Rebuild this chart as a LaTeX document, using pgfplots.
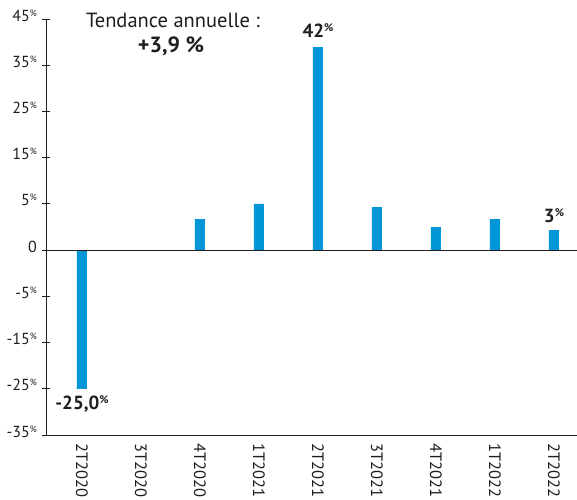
\documentclass[border=0pt]{standalone}
\usepackage{pgfplots}
\pgfplotsset{compat=1.18}
\usepackage{fontspec}
\setmainfont{PT Sans}
\definecolor{barblue}{HTML}{0096D7}
\definecolor{txt}{HTML}{1E1E1E}
% small raised percent sign
\newcommand\pct[2]{\raisebox{#2}{\fontsize{#1}{#1}\selectfont\%}}
\newcommand\tp{\pct{9}{5pt}}
\newcommand\bp{\pct{11}{6pt}}

\begin{document}
\begin{tikzpicture}[x=1pt,y=1pt]
\useasboundingbox (0,0) rectangle (577,499);
\begin{axis}[
  at={(46pt,64pt)}, anchor=south west,
  width=531pt, height=416pt, scale only axis,
  xmin=-0.61, xmax=8.39, ymin=-40, ymax=50,
  axis x line=bottom, axis y line=left,
  axis line style={-, draw=txt, line width=1pt},
  ybar, bar width=10pt, bar shift=0pt,
  ytick={-40,-30,-20,-10,0,10,20,30,40,50},
  yticklabels={-35\tp,-25\tp,-15\tp,-5\tp,0,5\tp,15\tp,25\tp,35\tp,45\tp},
  xtick={0,...,8},
  xticklabels={2T2020,3T2020,4T2020,1T2021,2T2021,3T2021,4T2021,1T2022,2T2022},
  tick align=center, major tick length=8pt,
  y tick style={draw=txt, line width=1pt},
  x tick style={draw=none},
  yticklabel style={font=\fontsize{16}{16}\selectfont, text=txt, anchor=base east, yshift=-2pt, inner sep=0pt, xshift=-5pt},
  xticklabel style={font=\fontsize{16.5}{17}\selectfont, text=txt, anchor=west, rotate=-90, inner sep=0pt},
  xticklabel shift=4pt,
  clip=false,
]
\addplot[fill=barblue, draw=none] coordinates {
  (0,-30) (1,0) (2,6.7) (3,10) (4,43.9) (5,9.3) (6,5.0) (7,6.7) (8,4.3)
};
\draw[txt, line width=1pt] (axis cs:-0.61,0) -- (axis cs:8.39,0);
\node[anchor=base, inner sep=0pt, yshift=10pt, font=\bfseries\fontsize{19}{19}\selectfont, text=txt] at (axis cs:4,43.9) {42\bp};
\node[anchor=base, inner sep=0pt, yshift=8pt, font=\bfseries\fontsize{19}{19}\selectfont, text=txt] at (axis cs:8,4.3) {3\bp};
\node[anchor=base, inner sep=0pt, yshift=-21pt, font=\bfseries\fontsize{19}{19}\selectfont, text=txt] at (axis cs:0,-30) {-25,0\bp};
\end{axis}
\node[anchor=base, inner sep=0pt, font=\fontsize{20.5}{21}\selectfont, text=txt] at (173,471) {Tendance annuelle :};
\node[anchor=base, inner sep=0pt, font=\bfseries\fontsize{22}{22}\selectfont, text=txt] at (171,446) {+3,9 \%};
\end{tikzpicture}
\end{document}
